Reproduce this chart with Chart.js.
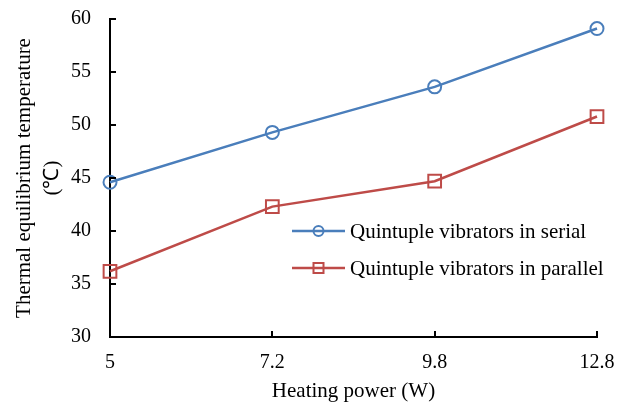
<!DOCTYPE html>
<html>
<head>
<meta charset="utf-8">
<script src="https://cdn.jsdelivr.net/npm/chart.js@4"></script>
<style>
  html, body { margin: 0; padding: 0; background: #fff; }
  .chart-container { position: relative; width: 629px; height: 404px; }
</style>
</head>
<body>
<div class="chart-container"><canvas id="chart" width="629" height="404"></canvas></div>
<script>
// Heating power categories (W)
const heatingPower = ['5', '7.2', '9.8', '12.8'];

// Thermal equilibrium temperature (°C)
const serialTemps = [44.6, 49.3, 53.6, 59.1];
const parallelTemps = [36.2, 42.3, 44.7, 50.8];

const seriesLabels = ['Quintuple vibrators in serial', 'Quintuple vibrators in parallel'];

const FONT = '"Liberation Serif", "Times New Roman", serif';

// Draws the inward tick marks and the line+marker legend
const insideTicks = {
  id: 'insideTicks',
  afterDraw(chart) {
    const { ctx, chartArea, scales } = chart;
    ctx.save();
    ctx.strokeStyle = '#000';
    ctx.lineWidth = 2;
    ctx.beginPath();
    scales.y.ticks.forEach((t, i) => {
      const y = Math.round(scales.y.getPixelForTick(i));
      ctx.moveTo(chartArea.left, y);
      ctx.lineTo(chartArea.left + 6, y);
    });
    scales.x.ticks.forEach((t, i) => {
      const x = Math.round(scales.x.getPixelForTick(i));
      ctx.moveTo(x, chartArea.bottom);
      ctx.lineTo(x, chartArea.bottom - 6);
    });
    ctx.stroke();

    // legend
    const lx = chartArea.left + 182;
    const ly = chartArea.top + 212;
    chart.data.datasets.forEach((ds, i) => {
      const y = ly + i * 37;
      ctx.strokeStyle = ds.borderColor;
      ctx.lineWidth = 2.5;
      ctx.beginPath();
      ctx.moveTo(lx, y);
      ctx.lineTo(lx + 53, y);
      ctx.stroke();
      ctx.lineWidth = 2;
      ctx.beginPath();
      if (ds.pointStyle === 'circle') {
        ctx.arc(lx + 26.5, y, 5, 0, Math.PI * 2);
      } else {
        ctx.rect(lx + 26.5 - 5, y - 5, 10, 10);
      }
      ctx.stroke();
      ctx.fillStyle = '#000';
      ctx.font = '21px ' + FONT;
      ctx.textBaseline = 'middle';
      ctx.textAlign = 'left';
      ctx.fillText(ds.label, lx + 58, y + 1);
    });
    ctx.restore();
  }
};

new Chart(document.getElementById('chart'), {
  type: 'line',
  data: {
    labels: heatingPower,
    datasets: [
      {
        label: seriesLabels[0],
        data: serialTemps,
        borderColor: '#4a7ebb',
        backgroundColor: 'transparent',
        borderWidth: 2.5,
        pointStyle: 'circle',
        pointRadius: 6.5,
        pointBorderWidth: 2,
        pointBackgroundColor: 'transparent',
        tension: 0
      },
      {
        label: seriesLabels[1],
        data: parallelTemps,
        borderColor: '#be4b48',
        backgroundColor: 'transparent',
        borderWidth: 2.5,
        pointStyle: 'rect',
        pointRadius: 9,
        pointBorderWidth: 2,
        pointBackgroundColor: 'transparent',
        tension: 0
      }
    ]
  },
  options: {
    responsive: false,
    animation: false,
    maintainAspectRatio: false,
    layout: { autoPadding: false, padding: { left: 0, right: 32, top: 19, bottom: 0 } },
    plugins: {
      legend: { display: false },
      tooltip: { enabled: false }
    },
    scales: {
      x: {
        type: 'category',
        offset: false,
        border: { color: '#000', width: 2 },
        grid: { drawOnChartArea: false, drawTicks: false },
        ticks: { color: '#000', padding: 14, font: { family: FONT, size: 20 }, maxRotation: 0 },
        title: {
          display: true,
          text: 'Heating power (W)',
          color: '#000',
          font: { family: FONT, size: 21, lineHeight: 1.2 },
          padding: { top: 0, bottom: 0 }
        },
        afterFit(scale) { scale.height = 67; }
      },
      y: {
        min: 30,
        max: 60,
        border: { color: '#000', width: 2 },
        grid: { drawOnChartArea: false, drawTicks: false },
        ticks: { stepSize: 5, color: '#000', padding: 19, font: { family: FONT, size: 20 } },
        title: {
          display: true,
          text: ['Thermal equilibrium temperature', '(\u2103)'],
          color: '#000',
          font: { family: FONT, size: 21, lineHeight: 1.33 },
          padding: { top: 11, bottom: 0 }
        },
        afterFit(scale) {
          scale.width = 110;
          // ticks.padding would otherwise be added to the top/bottom inset
          scale.paddingTop = 0;
          scale.paddingBottom = 0;
        }
      }
    }
  },
  plugins: [insideTicks]
});
</script>
</body>
</html>
